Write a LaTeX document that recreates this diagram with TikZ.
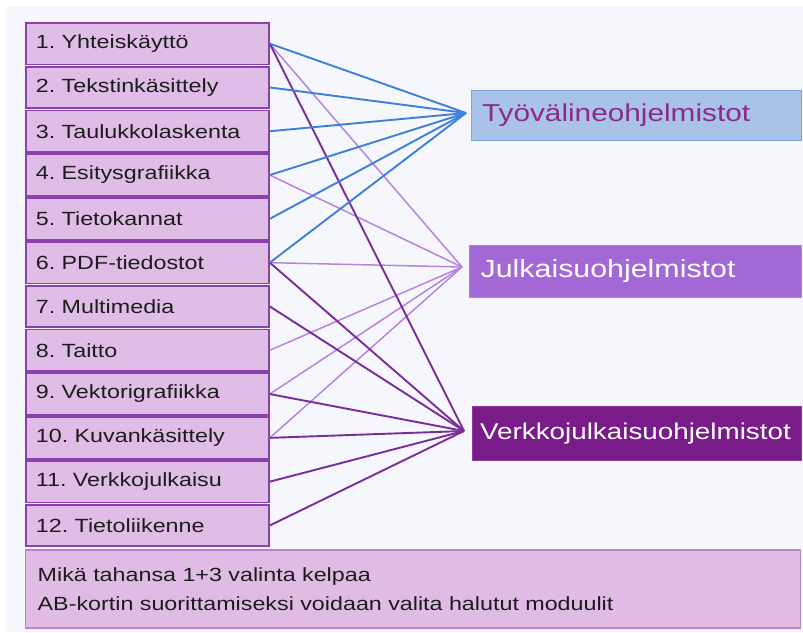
\documentclass[tikz,border=0pt]{standalone}
\usepackage{fontspec}
\setmainfont{Liberation Sans}[FakeStretch=1.22]
\definecolor{bgc}{RGB}{245,247,252}
\definecolor{lfill}{RGB}{223,189,230}
\definecolor{ldraw}{RGB}{140,64,172}
\definecolor{bfill}{RGB}{224,188,228}
\definecolor{bdraw}{RGB}{182,132,204}
\definecolor{tfill}{RGB}{169,195,232}
\definecolor{tdraw}{RGB}{122,165,230}
\definecolor{ttext}{RGB}{138,42,140}
\definecolor{jfill}{RGB}{163,103,214}
\definecolor{jdraw}{RGB}{180,128,224}
\definecolor{vfill}{RGB}{122,27,138}
\definecolor{vdraw}{RGB}{140,60,155}
\definecolor{blc}{RGB}{63,127,220}
\definecolor{lpc}{RGB}{183,132,224}
\definecolor{dpc}{RGB}{123,44,155}
\definecolor{txt}{RGB}{28,28,28}
\begin{document}
\frenchspacing
\begin{tikzpicture}[x=1pt,y=-1pt,
  lbox/.style={draw=ldraw, line width=1.8pt, fill=lfill, minimum width=243pt, minimum height=41.5pt,
    text width=223pt, align=left, inner xsep=10pt, inner ysep=0pt, text=txt,
    font=\fontsize{19.1}{22}\selectfont, anchor=north west},
  rbox/.style={line width=1.2pt, anchor=north west, inner ysep=0pt, align=left},
  bl/.style={draw=blc, line width=1.9pt},
  lp/.style={draw=lpc, line width=1.5pt},
  dp/.style={draw=dpc, line width=1.9pt}]
\useasboundingbox (0,0) rectangle (803,632);
\fill[bgc] (6,7) rectangle (803,632);
\foreach \t [count=\i] in {1. Yhteiskäyttö, 2. Tekstinkäsittely, 3. Taulukkolaskenta, 4. Esitysgrafiikka, 5. Tietokannat, 6. PDF-tiedostot, 7. Multimedia, 8. Taitto, 9. Vektorigrafiikka, 10. Kuvankäsittely, 11. Verkkojulkaisu, 12. Tietoliikenne}
  \node[lbox] (b\i) at (25,{22+43.8*(\i-1)}) {\t};
\node[rbox, draw=tdraw, fill=tfill, text=ttext, minimum width=330pt, minimum height=50pt,
  text width=308pt, inner xsep=11pt, font=\fontsize{24.4}{28}\selectfont] (tw) at (470.5,90) {Työvälineohjelmistot};
\node[rbox, draw=jdraw, fill=jfill, text=white, minimum width=331.5pt, minimum height=51.5pt,
  text width=309.5pt, inner xsep=11pt, font=\fontsize{24.9}{28}\selectfont] (ju) at (469,245) {Julkaisuohjelmistot};
\node[rbox, draw=vdraw, fill=vfill, text=white, minimum width=329pt, minimum height=54pt,
  text width=313pt, inner xsep=8pt, font=\fontsize{22.8}{26}\selectfont] (ve) at (471.5,406) {Verkkojulkaisuohjelmistot};
\node[draw=bdraw, line width=1.4pt, fill=bfill, anchor=north west, minimum width=775pt, minimum height=78pt,
  text width=751pt, inner xsep=12pt, align=left, text=txt,
  font=\fontsize{19.1}{29}\selectfont] (note) at (25,549.3)
  {Mikä tahansa 1+3 valinta kelpaa\\AB-kortin suorittamiseksi voidaan valita halutut moduulit};
\coordinate (ct) at (466,113);
\coordinate (cj) at (462,267);
\coordinate (cv) at (464,431);
\foreach \i in {1,4,6,8,9,10} \draw[lp] (b\i.east) -- (cj);
\foreach \i in {1,6,7,9,10,11,12} \draw[dp] (b\i.east) -- (cv);
\foreach \i in {1,...,6} \draw[bl] (b\i.east) -- (ct);
\end{tikzpicture}
\end{document}
